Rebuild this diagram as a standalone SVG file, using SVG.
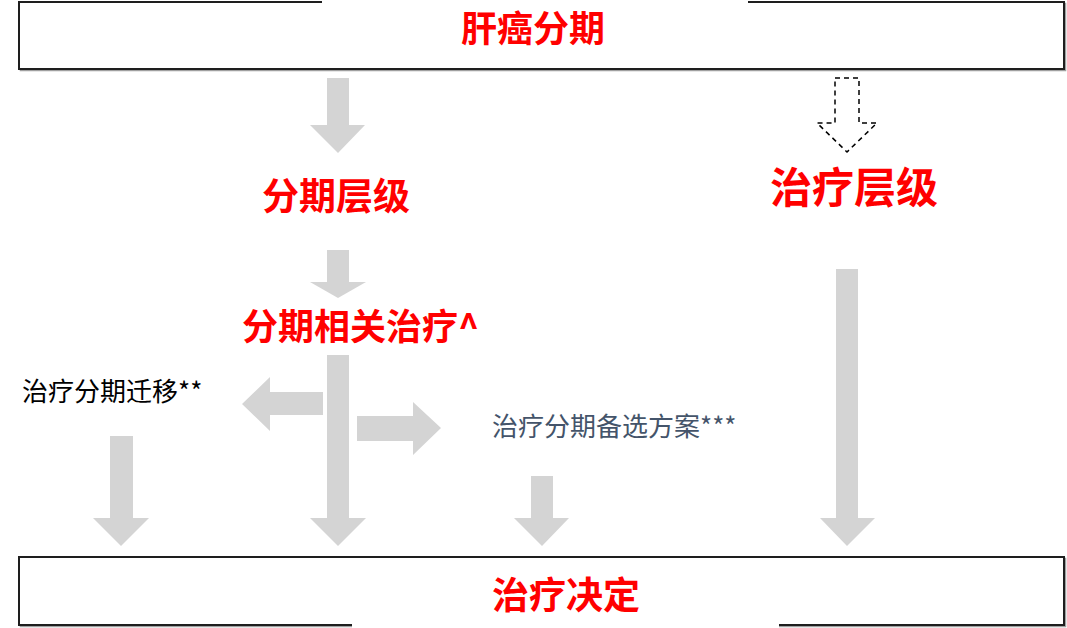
<svg xmlns="http://www.w3.org/2000/svg" width="1067" height="628" viewBox="0 0 1067 628">
<style>
.box{fill:#fff;stroke:#1e1e1e;stroke-width:2}
.shadow{fill:none;stroke:#a0a0a0;stroke-width:1.5}
.patch{fill:#fff}
.red{font-family:"Noto Sans CJK SC","Noto Sans",sans-serif;font-weight:bold;fill:#ff0000}
.lbl{font-family:"Noto Sans CJK SC","Noto Sans",sans-serif;font-size:26px}
.arr{fill:#d4d4d4}
.dash{fill:none;stroke:#000;stroke-width:1.5;stroke-dasharray:5 4}
</style>
<rect width="1067" height="628" fill="#fff"/>
<g id="connectors">
<path class="arr" d="M327,78H349V125H365L338,153L310,125H327Z"/>
<path class="arr" d="M327,250H349V282H366L338,298L310,282H327Z"/>
<path class="arr" d="M327,355H349V518H366L338,546L310,518H327Z"/>
<path class="arr" d="M110,436H133V518H149L121,546L93,518H110Z"/>
<path class="arr" d="M531,476H553V518H569L542,546L514,518H531Z"/>
<path class="arr" d="M836,269H858V518H875L847,546L820,518H836Z"/>
<path class="arr" d="M323,392V415H270V431L242,404L270,377V392Z"/>
<path class="arr" d="M357,416H413V402L441,428L413,455V441H357Z"/>
<path class="dash" d="M835,78H859V123H877L847,152L817,123H835Z"/>
</g>
<g id="node-top">
<rect class="shadow" x="20.5" y="3.5" width="1045" height="67"/>
<rect class="box" x="19" y="2" width="1045" height="67"/>
<rect class="patch" x="322" y="0" width="426" height="4"/>
<text class="red" x="533" y="42" font-size="36" text-anchor="middle">肝癌分期</text>
</g>
<g id="node-staging-level">
<text class="red" x="336" y="210" font-size="37" text-anchor="middle">分期层级</text>
</g>
<g id="node-treatment-level">
<text class="red" x="854" y="203" font-size="42" text-anchor="middle">治疗层级</text>
</g>
<g id="node-stage-treatment">
<text class="red" x="242" y="340" font-size="36">分期相关治疗^</text>
</g>
<g id="node-migration">
<text class="lbl" x="22" y="401" fill="#000">治疗分期迁移**</text>
</g>
<g id="node-alternative">
<text class="lbl" x="492" y="436" fill="#44546a">治疗分期备选方案***</text>
</g>
<g id="node-decision">
<rect class="shadow" x="20.5" y="558.5" width="1045" height="68"/>
<rect class="box" x="19" y="557" width="1045" height="68"/>
<rect class="patch" x="352" y="624" width="427" height="4"/>
<text class="red" x="566" y="609" font-size="37" text-anchor="middle">治疗决定</text>
</g>
</svg>
